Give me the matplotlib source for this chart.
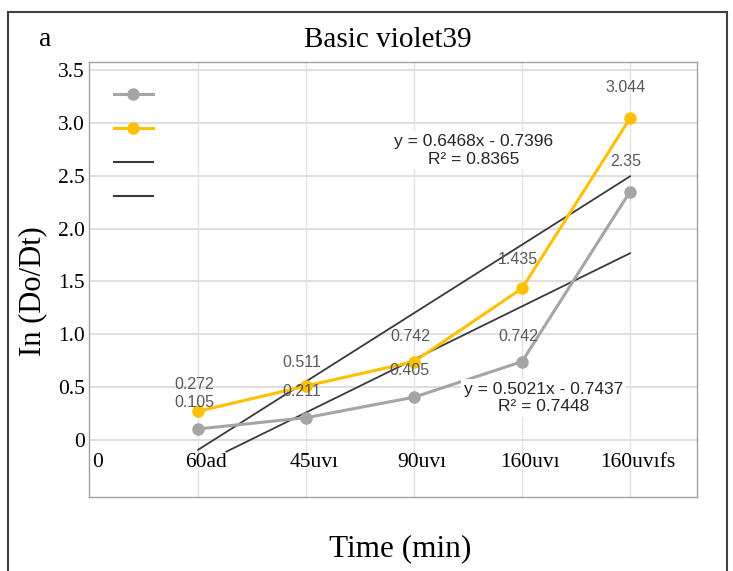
import matplotlib
matplotlib.use("Agg")
import matplotlib.pyplot as plt
import numpy as np
from matplotlib.patches import Rectangle
from matplotlib.lines import Line2D

# ---- data ----
categories = ["0", "60ad", "45uvı", "90uvı", "160uvı", "160uvıfs"]
gray_vals = [0.105, 0.211, 0.405, 0.742, 2.35]
orange_vals = [0.272, 0.511, 0.742, 1.435, 3.044]
gray_labels = ["0.105", "0.211", "0.405", "0.742", "2.35"]
orange_labels = ["0.272", "0.511", "0.742", "1.435", "3.044"]
trend_orange = (0.6468, -0.7396, 0.8365)
trend_gray = (0.5021, -0.7437, 0.7448)
yticks = [0, 0.5, 1.0, 1.5, 2.0, 2.5, 3.0, 3.5]
ytick_labels = ["0", "0.5", "1.0", "1.5", "2.0", "2.5", "3.0", "3.5"]

GRAY = "#a5a5a5"
ORANGE = "#ffc000"
DARK = "#3a3a3a"
LBL = "#595959"
SERIF = "Liberation Serif"
SANS = "Liberation Sans"

fig = plt.figure(figsize=(7.33, 5.71), dpi=100)
ax = fig.add_axes([89/733, 1-497/571, (697-89)/733, (497-62)/571])

xs = np.arange(1, len(gray_vals) + 1)
ax.set_xlim(-0.01, 5.62)
ax.set_ylim(-0.539, 3.576)

# grid
for y in yticks:
    ax.axhline(y, color="#d9d9d9", lw=1.2, zorder=0)
for x in xs:
    ax.axvline(x, color="#e3e3e3", lw=1.0, zorder=0)

# trend lines (clipped at a lower bound like the reference)
ymin_clip = -0.11
for (m, b, r2) in (trend_orange, trend_gray):
    x0 = max(1.0, (ymin_clip - b) / m)
    xl = np.array([x0, 5.0])
    ax.plot(xl, m * xl + b, color=DARK, lw=1.3, zorder=2)

# series
ax.plot(xs, gray_vals, color=GRAY, lw=2.2, marker="o", ms=8, zorder=3)
ax.plot(xs, orange_vals, color=ORANGE, lw=2.2, marker="o", ms=8, zorder=4)

# data labels (offset in points above each point)
off_o = [19, 17, 18, 21, 22]
off_g = [19, 19, 19, 18, 22]
for x, v, t, o in zip(xs, orange_vals, orange_labels, off_o):
    ax.annotate(t, (x, v), xytext=(-3, o), textcoords="offset points", ha="center", va="center",
                fontsize=11.5, color=LBL, family=SANS, zorder=6)
for x, v, t, o in zip(xs, gray_vals, gray_labels, off_g):
    ax.annotate(t, (x, v), xytext=(-3, o), textcoords="offset points", ha="center", va="center",
                fontsize=11.5, color=LBL, family=SANS, zorder=6)

# trend equations
def eq_text(m, b, r2):
    return f"y = {m:.4f}x - {abs(b):.4f}\nR² = {r2:.4f}"

ax.text(3.55, 2.74, eq_text(*trend_orange), ha="center", va="center", fontsize=12.5,
        color="#262626", family=SANS, linespacing=1.2, zorder=7,
        bbox=dict(facecolor="white", edgecolor="none", pad=2))
ax.text(4.2, 0.40, eq_text(*trend_gray), ha="center", va="center", fontsize=12.5,
        color="#262626", family=SANS, linespacing=1.2, zorder=7,
        bbox=dict(facecolor="white", edgecolor="none", pad=2))

# x category labels inside the axes
for i, c in enumerate(categories):
    ax.text(i + 0.07, -0.21, c, ha="center", va="center", fontsize=15.5, family=SERIF, color="black")

ax.set_xticks([])
ax.set_yticks(yticks)
ax.set_yticklabels(ytick_labels, family=SERIF, fontsize=15.5)
ax.tick_params(axis="y", length=0, pad=3)
for s in ax.spines.values():
    s.set_color("#a0a0a0")
    s.set_linewidth(1.0)

# legend with no labels
handles = [
    Line2D([], [], color=GRAY, lw=2.2, marker="o", ms=8),
    Line2D([], [], color=ORANGE, lw=2.2, marker="o", ms=8),
    Line2D([], [], color=DARK, lw=1.5),
    Line2D([], [], color=DARK, lw=1.5),
]
ax.legend(handles, [""] * 4, loc="upper left", bbox_to_anchor=(0.02, 0.97), frameon=False,
          handlelength=2.8, labelspacing=1.45, fontsize=10, handletextpad=0)

# titles
fig.text(388/733, 1-40/571, "Basic violet39", ha="center", va="center", fontsize=21, family=SERIF)
fig.text(45/733, 1-40/571, "a", ha="center", va="center", fontsize=20, family=SERIF)
fig.text(33/733, 1-291/571, "In (Do/Dt)", ha="center", va="center", rotation=90, fontsize=22, family=SERIF)
fig.text(400/733, 1-549/571, "Time (min)", ha="center", va="center", fontsize=22.5, family=SERIF)

# outer frame
fig.patches.append(Rectangle((8/733, -0.1), (727-8)/733, 1.1 - 12/571, transform=fig.transFigure,
                             fill=False, edgecolor="#404040", lw=1.5))

fig.savefig("out.png", dpi=100)
